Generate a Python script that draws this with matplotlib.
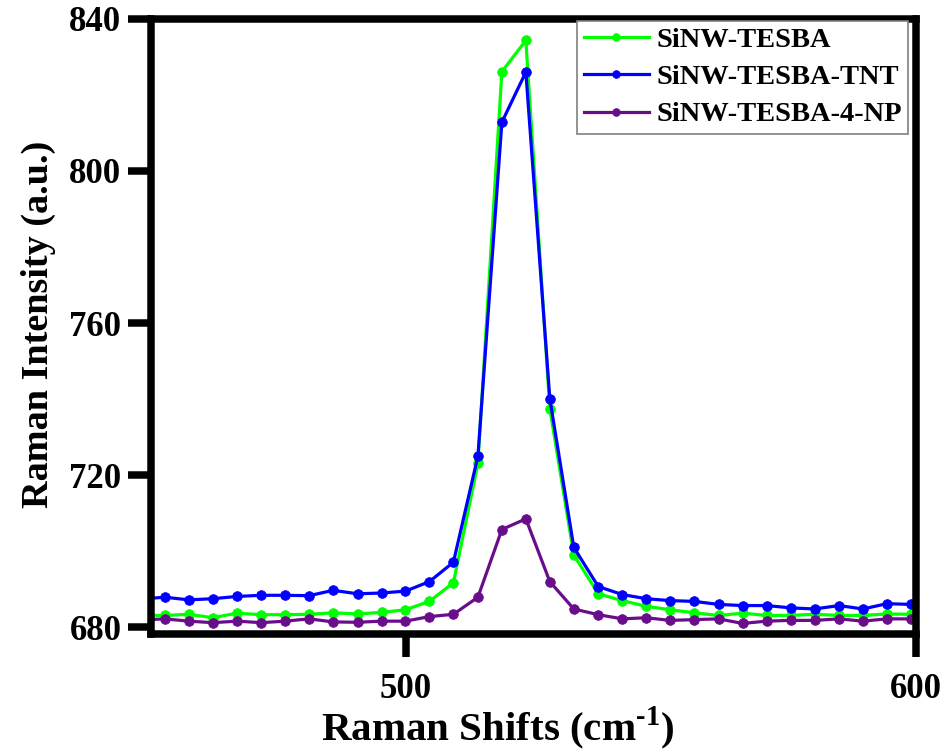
import matplotlib
matplotlib.use("Agg")
import matplotlib.pyplot as plt
from matplotlib.ticker import MultipleLocator

plt.rcParams['font.family'] = ['Liberation Serif', 'DejaVu Serif']
plt.rcParams['font.weight'] = 'bold'
plt.rcParams['mathtext.fontset'] = 'custom'
plt.rcParams['mathtext.rm'] = 'Liberation Serif:bold'
plt.rcParams['mathtext.bf'] = 'Liberation Serif:bold'

# Raman shift (cm-1)
shift = [448.0, 452.7, 457.4, 462.1, 466.9, 471.6, 476.3, 481.0, 485.7, 490.5,
         495.2, 499.9, 504.6, 509.3, 514.1, 518.8, 523.5, 528.2, 532.9, 537.7,
         542.4, 547.1, 551.8, 556.5, 561.3, 566.0, 570.7, 575.4, 580.1, 584.9,
         589.6, 594.3, 599.0, 603.7]

tesba = [683.1, 683.1, 683.4, 682.5, 683.7, 683.3, 683.3, 683.4, 683.8, 683.5,
         683.9, 684.6, 686.8, 691.7, 723.1, 826.1, 834.3, 737.5, 699.0, 688.8,
         687.0, 685.5, 684.6, 683.8, 683.1, 683.7, 683.1, 683.1, 683.4, 683.1,
         683.1, 683.5, 683.4, 683.4]

tesba_tnt = [687.4, 687.9, 687.2, 687.5, 688.1, 688.4, 688.4, 688.3, 689.7, 688.8,
             689.0, 689.5, 692.0, 697.1, 725.0, 812.8, 826.0, 740.1, 701.0, 690.7,
             688.6, 687.5, 687.0, 686.8, 686.0, 685.7, 685.7, 685.1, 684.8, 685.7,
             684.8, 686.2, 686.0, 686.0]

tesba_4np = [681.9, 682.2, 681.6, 681.2, 681.6, 681.2, 681.6, 682.2, 681.4, 681.3,
             681.6, 681.6, 682.8, 683.4, 687.9, 705.7, 708.5, 692.0, 684.8, 683.3,
             682.2, 682.5, 681.8, 682.0, 682.2, 681.0, 681.6, 681.8, 681.8, 682.2,
             681.6, 682.2, 682.2, 682.2]

labels = ['SiNW-TESBA', 'SiNW-TESBA-TNT', 'SiNW-TESBA-4-NP']
colors = ['#00FF00', '#0000FF', '#6A0D8A']

fig = plt.figure(figsize=(9.52, 7.56), dpi=100)
ax = fig.add_axes([151 / 952, 1 - 633.7 / 756, (916 - 151) / 952, (633.7 - 18.8) / 756])

for ys, lab, c in zip([tesba, tesba_tnt, tesba_4np], labels, colors):
    ax.plot(shift, ys, '-', color=c, lw=2.3, marker='o', ms=7,
            mfc=c, mec=c, mew=0.5, label=lab)

ax.set_xlim(450, 600)
ax.set_ylim(678.3, 840)
ax.xaxis.set_major_locator(MultipleLocator(100))
ax.set_yticks([680, 720, 760, 800, 840])

for s in ax.spines.values():
    s.set_linewidth(5.4)
ax.tick_params(axis='both', direction='out', length=16.3, width=5.4,
               labelsize=25, top=False, right=False)
ax.tick_params(axis='x', pad=12)
ax.tick_params(axis='y', pad=5)
for t in ax.get_xticklabels() + ax.get_yticklabels():
    t.set_fontweight('bold')

ax.set_xlabel(r'Raman Shifts (cm$^{\mathbf{\text{-}1}}$)', fontsize=29.5, fontweight='bold')
ax.set_ylabel('Raman Intensity (a.u.)', fontsize=27.5, fontweight='bold')
ax.xaxis.set_label_coords((498 - 151) / 765, -(705 - 633.7) / 614.9)
ax.yaxis.set_label_coords(-(151 - 56) / 765, (633.7 - 324) / 614.9)

leg = ax.legend(loc='upper right', bbox_to_anchor=(0.9895, 0.997), borderaxespad=0,
                frameon=True, fancybox=False, framealpha=1, edgecolor='#808080',
                prop={'family': 'Liberation Serif', 'weight': 'bold', 'size': 20.5},
                handlelength=2.3, handletextpad=0.25, labelspacing=0.4,
                borderpad=0.22, markerscale=0.8)
leg.get_frame().set_linewidth(1.2)

fig.savefig('out.png', dpi=100)
